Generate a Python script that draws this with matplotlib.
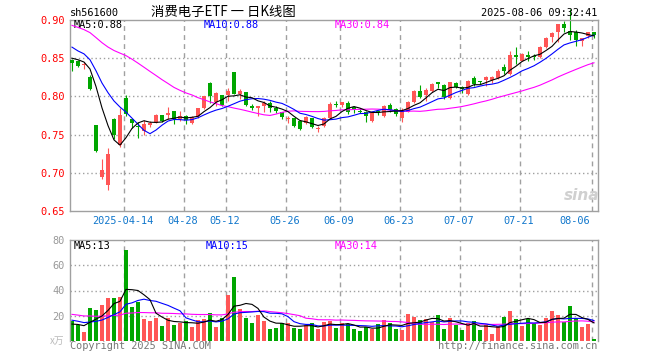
import numpy as np
import matplotlib.pyplot as plt
import pandas as pd

plt.rcParams['font.family'] = ['DejaVu Sans Mono', 'Noto Sans CJK SC']

# trading days 2025-03-31 .. 2025-08-06 (SSE holidays removed)
holidays = ['2025-04-04', '2025-05-01', '2025-05-02', '2025-05-05', '2025-06-02']
days = pd.bdate_range('2025-03-31', '2025-08-06')
days = days[~days.isin(pd.to_datetime(holidays))]

open_ = [0.847, 0.846, 0.841, 0.826, 0.762, 0.6947, 0.6846, 0.7701, 0.7359, 0.7974,
         0.770, 0.761, 0.7547, 0.7627, 0.7658, 0.7754, 0.7754, 0.7803, 0.770, 0.7737,
         0.7658, 0.7737, 0.7842, 0.8175, 0.7921, 0.8017, 0.8017, 0.8316, 0.803, 0.8053,
         0.7877, 0.785, 0.7868, 0.792, 0.7846, 0.779, 0.770, 0.7711, 0.768, 0.7658,
         0.7711, 0.7575, 0.7613, 0.7711, 0.7905, 0.7886, 0.7912, 0.7855, 0.781, 0.7797,
         0.7679, 0.7803, 0.7745, 0.7886, 0.7833, 0.7711, 0.7797, 0.7929, 0.8074, 0.8017,
         0.8074, 0.8184, 0.8149, 0.7974, 0.8175, 0.8118, 0.803, 0.8237, 0.8197, 0.8214,
         0.8214, 0.8241, 0.8382, 0.8293, 0.8547, 0.8468, 0.8538, 0.853, 0.8513, 0.8645,
         0.8776, 0.8842, 0.8942, 0.8855, 0.8842, 0.8724, 0.8785, 0.8842]
high = [0.849, 0.847, 0.845, 0.828, 0.762, 0.7175, 0.733, 0.7714, 0.7846, 0.8017,
        0.771, 0.766, 0.769, 0.768, 0.7767, 0.776, 0.786, 0.781, 0.781, 0.7754,
        0.7737, 0.785, 0.801, 0.8184, 0.806, 0.802, 0.8105, 0.832, 0.8096, 0.806,
        0.790, 0.7877, 0.794, 0.794, 0.787, 0.780, 0.7737, 0.772, 0.769, 0.7737,
        0.772, 0.7614, 0.7724, 0.7921, 0.7942, 0.793, 0.794, 0.788, 0.7845, 0.781,
        0.781, 0.7825, 0.789, 0.791, 0.785, 0.7842, 0.7942, 0.8087, 0.8149, 0.8105,
        0.818, 0.8193, 0.8158, 0.8193, 0.8193, 0.814, 0.8215, 0.827, 0.8207, 0.8265,
        0.8267, 0.8355, 0.8426, 0.8592, 0.8645, 0.8565, 0.860, 0.8557, 0.8654, 0.8776,
        0.8838, 0.895, 0.8985, 0.915, 0.8868, 0.8767, 0.8842, 0.8845]
low = [0.833, 0.838, 0.836, 0.809, 0.727, 0.692, 0.678, 0.744, 0.734, 0.7737,
       0.759, 0.745, 0.750, 0.760, 0.765, 0.766, 0.771, 0.7637, 0.768, 0.7645,
       0.7636, 0.772, 0.7835, 0.792, 0.7876, 0.788, 0.794, 0.803, 0.797, 0.788,
       0.7824, 0.7745, 0.780, 0.779, 0.778, 0.771, 0.7649, 0.7595, 0.756, 0.7645,
       0.758, 0.7534, 0.760, 0.770, 0.7855, 0.7855, 0.7766, 0.778, 0.778, 0.766,
       0.766, 0.776, 0.7735, 0.780, 0.7745, 0.7666, 0.779, 0.792, 0.7978, 0.794,
       0.806, 0.8105, 0.797, 0.7965, 0.8105, 0.805, 0.802, 0.813, 0.816, 0.8135,
       0.817, 0.8225, 0.829, 0.8275, 0.843, 0.846, 0.8468, 0.848, 0.8505, 0.8636,
       0.8715, 0.8715, 0.8838, 0.8732, 0.8655, 0.8655, 0.876, 0.876]
close = [0.844, 0.840, 0.843, 0.8096, 0.7284, 0.7043, 0.7241, 0.749, 0.7754, 0.7767,
         0.765, 0.760, 0.7636, 0.7658, 0.7754, 0.768, 0.778, 0.770, 0.7737, 0.7692,
         0.7724, 0.7842, 0.8008, 0.800, 0.804, 0.789, 0.8074, 0.803, 0.8074, 0.789,
         0.7846, 0.787, 0.792, 0.7846, 0.781, 0.7724, 0.7705, 0.7613, 0.757, 0.7724,
         0.7605, 0.7585, 0.7711, 0.7899, 0.7893, 0.7921, 0.7797, 0.7824, 0.7797, 0.7737,
         0.7797, 0.779, 0.7868, 0.782, 0.7767, 0.7824, 0.7929, 0.8074, 0.7987, 0.8087,
         0.8162, 0.8158, 0.7987, 0.8184, 0.8118, 0.8096, 0.8205, 0.8162, 0.8184, 0.8258,
         0.825, 0.8329, 0.8329, 0.8547, 0.852, 0.8557, 0.852, 0.8513, 0.8645, 0.8767,
         0.8829, 0.8942, 0.8898, 0.881, 0.8732, 0.8767, 0.8842, 0.881]
# volume, 万手
vol = [16, 12.5, 7.2, 26.4, 24.5, 28.5, 34.4, 34.4, 35.2, 72,
       27.2, 31.2, 17.4, 16, 18.4, 12, 18.4, 12.5, 14.4, 15.7,
       11.2, 16.5, 17.4, 21.9, 11.2, 17.9, 36.5, 50.4, 25.4, 18.4,
       14.4, 20.5, 16, 9.4, 10.4, 13.9, 14.4, 10.4, 9.4, 12.5,
       13.9, 9.4, 15.2, 16, 10.4, 14.4, 13.1, 9.4, 7.8, 10.7,
       9.9, 13.4, 16.5, 13.9, 9.4, 8.5, 21.4, 19, 16.5, 17.4,
       15.2, 20.5, 9.4, 18.4, 12.5, 8.5, 13.9, 15.7, 8.5, 12.5,
       5.9, 12, 18.7, 24, 17.4, 12, 17.4, 13.9, 12.5, 18.4,
       23.8, 20.5, 15.2, 27.8, 17.9, 11.2, 13.4, 1.4]

# sessions before the window, only needed for the moving averages
pre_close = [0.92, 0.93, 0.928, 0.923, 0.905, 0.895, 0.885, 0.878, 0.8745,
             0.905, 0.915, 0.925, 0.93, 0.935, 0.932, 0.928, 0.924,
             0.89, 0.87, 0.8525, 0.89, 0.881, 0.887, 0.872, 0.865,
             0.85, 0.858, 0.855, 0.843]
pre_vol = [30, 28, 26, 32, 25, 27, 24, 29, 27,
           22, 20, 18, 21, 19, 23, 20, 17, 21, 19, 20,
           21, 18, 22, 19, 18, 14, 12, 13, 12]

tick_dates = ['2025-04-14', '2025-04-28', '2025-05-12', '2025-05-26', '2025-06-09',
              '2025-06-23', '2025-07-07', '2025-07-21', '2025-08-06']
tick_labels = ['2025-04-14', '04-28', '05-12', '05-26', '06-09',
               '06-23', '07-07', '07-21', '08-06']

RED = '#FF5656'
GREEN = '#00A600'
GRAY = '#A0A0A0'

o = np.array(open_); c = np.array(close); h = np.array(high); l = np.array(low)
v = np.array(vol)
x = np.arange(len(c))
up = c >= o
col = np.where(up, RED, GREEN)


def ma(pre, cur, n):
    s = pd.Series(np.concatenate([pre, cur])).rolling(n).mean().values
    return s[len(pre):]


tick_x = [days.get_loc(pd.Timestamp(d)) - 0.35 for d in tick_dates]

fig = plt.figure(figsize=(6.6, 3.6), dpi=100)
W, H = 660.0, 360.0
ax = fig.add_axes([70 / W, 1 - 211 / H, 528 / W, 191 / H])
axv = fig.add_axes([70 / W, 1 - 341 / H, 528 / W, 101 / H])

for a in (ax, axv):
    a.set_xlim(-0.33, 87.67)
    for s in a.spines.values():
        s.set_color(GRAY)
        s.set_linewidth(1.0)
    a.set_xticks([])
    a.tick_params(axis='y', length=0, pad=4, labelsize=7.4)
    for t in tick_x:
        a.axvline(t, color=GRAY, lw=1.0, ls=(0, (3.5, 3)), zorder=0)
axv.spines['bottom'].set_visible(False)

# price panel
ax.set_ylim(0.65, 0.90)
ax.set_yticks([0.65, 0.70, 0.75, 0.80, 0.85, 0.90])
ax.set_yticklabels(['%.2f' % t for t in [0.65, 0.70, 0.75, 0.80, 0.85, 0.90]], color='#FF0000')
for yv in [0.70, 0.75, 0.80, 0.85]:
    ax.axhline(yv, color=GRAY, lw=1.0, ls=(0, (1, 2)), zorder=0)

ax.vlines(x, l, h, color=col, lw=0.8, zorder=2, clip_on=False)
ax.bar(x, np.maximum(np.abs(c - o), 0.0011), bottom=np.minimum(o, c), width=0.8,
       color=col, lw=0, zorder=3)

ma5 = ma(pre_close, c, 5)
ma10 = ma(pre_close, c, 10)
ma30 = ma(pre_close, c, 30)
ax.plot(x, ma30, color='#FF00FF', lw=0.8, zorder=4)
ax.plot(x, ma10, color='#0000FF', lw=0.8, zorder=4)
ax.plot(x, ma5, color='black', lw=0.8, zorder=4)

ax.text(0.0076, 0.972, 'MA5:%.2f' % ma5[-1], transform=ax.transAxes, color='black',
        fontsize=7.4, va='center')
ax.text(0.254, 0.972, 'MA10:%.2f' % ma10[-1], transform=ax.transAxes, color='#0000FF',
        fontsize=7.4, va='center')
ax.text(0.502, 0.972, 'MA30:%.2f' % ma30[-1], transform=ax.transAxes, color='#FF00FF',
        fontsize=7.4, va='center')

ax.text(0.968, 0.08, 'sina', transform=ax.transAxes, color='#D0D0D0', fontsize=11,
        fontweight='bold', style='italic', family='DejaVu Sans', ha='center', va='center')

for t, lab in zip(tick_x, tick_labels):
    last = lab == tick_labels[-1]
    ax.text(t - (0.3 if last else 0.25), -0.052, lab, transform=ax.get_xaxis_transform(),
            color='#1177CC', fontsize=7.4, va='center', ha='right' if last else 'center')

# volume panel
axv.set_ylim(0, 80)
axv.set_yticks([20, 40, 60, 80])
axv.set_yticklabels(['20', '40', '60', '80'], color='#999999')
for yv in [20, 40, 60]:
    axv.axhline(yv, color=GRAY, lw=1.0, ls=(0, (1, 2)), zorder=0)
axv.bar(x, v, width=0.8, color=col, lw=0, zorder=2)
axv.plot(x, ma(pre_vol, v, 30), color='#FF00FF', lw=0.8, zorder=4)
axv.plot(x, ma(pre_vol, v, 10), color='#0000FF', lw=0.8, zorder=4)
axv.plot(x, ma(pre_vol, v, 5), color='black', lw=0.8, zorder=4)
axv.text(0.0076, 0.94, 'MA5:13', transform=axv.transAxes, color='black', fontsize=7.4, va='center')
axv.text(0.256, 0.94, 'MA10:15', transform=axv.transAxes, color='#0000FF', fontsize=7.4, va='center')
axv.text(0.502, 0.94, 'MA30:14', transform=axv.transAxes, color='#FF00FF', fontsize=7.4, va='center')

# header / footer
fig.text(70 / W, 1 - 13 / H, 'sh561600', fontsize=7.4, va='center', ha='left')
fig.text(223 / W, 1 - 12 / H, '消费电子ETF 一 日K线图', fontsize=9.6, va='center', ha='center',
         family=['Noto Sans CJK SC', 'DejaVu Sans'])
fig.text(597 / W, 1 - 13 / H, '2025-08-06 09:32:41', fontsize=7.4, va='center', ha='right')
fig.text(70 / W, 1 - 346 / H, 'Copyright 2025 SINA.COM', fontsize=7.4, color='#777777', va='center')
fig.text(597 / W, 1 - 346 / H, 'http://finance.sina.com.cn', fontsize=7.4, color='#777777',
         va='center', ha='right')
fig.text(64 / W, 1 - 341 / H, 'x万', fontsize=7, color='#BBBBBB', va='center', ha='right',
         family=['Noto Sans CJK SC', 'DejaVu Sans'])

fig.savefig('out.png', dpi=100, facecolor='white')
